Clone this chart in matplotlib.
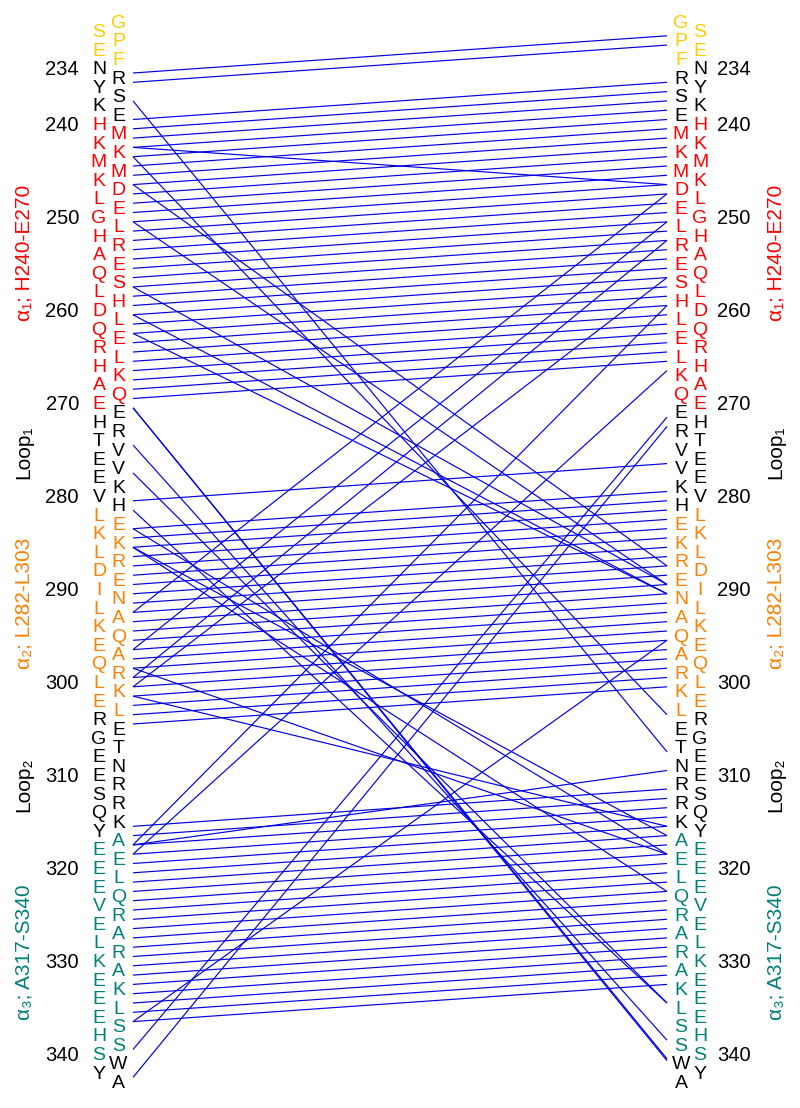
import matplotlib
matplotlib.use("Agg")
import matplotlib.pyplot as plt

# ---------------- data ----------------
first_res = 229
# residues at odd positions (229, 231, ... 343) and even positions (230, ... 342)
odd_seq = "GPFRSEMKMDELRESHLELKQERVVKHEKRENAQARKLETNRRKAELQRARAKLSSWA"
even_seq = "SENYKHKMKLGHAQLDQRHAEHTEEVLKLDILKEQLERGEESQYEEEVELKEEEHSY"

tick_values = [234, 240, 250, 260, 270, 280, 290, 300, 310, 320, 330, 340]

region_names = ["tag", "α₁; H240-E270", "Loop₁", "α₂; L282-L303", "Loop₂", "α₃; A317-S340"]
region_start = [229, 240, 271, 282, 304, 317]
region_end = [233, 270, 281, 303, 316, 340]
region_colors = ["#FFCC00", "#FF0000", "#000000", "#FF7F00", "#000000", "#00807A"]
label_center = [None, 253.3, 274.8, 291.0, 310.5, 328.5]

# links: residue on left copy -> residue on right copy
near_left = [234, 235] + list(range(239, 270)) + [280] + list(range(283, 305)) + list(range(315, 337))
near_right = [230, 231] + list(range(235, 266)) + [276] + list(range(279, 301)) + list(range(311, 333))
cross_left = [237, 242, 243, 246, 250, 257, 260, 262, 270, 270, 274, 277, 281, 283, 285, 285, 298, 301,
              292, 296, 299, 300, 317, 318, 339, 342, 317, 336]
cross_right = [307, 246, 303, 287, 289, 289, 290, 290, 340, 340.2, 338, 334, 334, 318, 316, 322, 318, 315,
               247, 250, 252, 256, 259, 266, 271, 272, 309, 295]
link_left = near_left + cross_left
link_right = near_right + cross_right

# ---------------- drawing ----------------
fig = plt.figure(figsize=(8, 11.08), dpi=100)
ax = fig.add_axes([0, 0, 1, 1])
ax.set_xlim(0, 800)
ax.set_ylim(345.29, 226.15)
ax.axis("off")

FONT = "Liberation Sans"
FS = 14
text_shift = -0.35

def res_color(r):
    for s, e, c in zip(region_start, region_end, region_colors):
        if s <= r <= e:
            return c
    return "#000000"

x_left_odd, x_left_even = 118.5, 99
x_right_odd, x_right_even = 681, 700
x_line_l, x_line_r = 133, 667

for i, ch in enumerate(odd_seq):
    r = first_res + 2 * i
    c = res_color(r)
    ax.text(x_left_odd, r + text_shift, ch, color=c, fontsize=FS, family=FONT, ha="center", va="center")
    ax.text(x_right_odd, r + text_shift, ch, color=c, fontsize=FS, family=FONT, ha="center", va="center")
for i, ch in enumerate(even_seq):
    r = first_res + 1 + 2 * i
    c = res_color(r)
    ax.text(x_left_even, r + text_shift, ch, color=c, fontsize=FS, family=FONT, ha="center", va="center")
    ax.text(x_right_even, r + text_shift, ch, color=c, fontsize=FS, family=FONT, ha="center", va="center")

for t in tick_values:
    ax.text(79, t + text_shift, str(t), fontsize=14.5, family=FONT, ha="right", va="center")
    ax.text(717, t + text_shift, str(t), fontsize=14.5, family=FONT, ha="left", va="center")

for name, c, yc in zip(region_names, region_colors, label_center):
    if yc is None:
        continue
    for x in (24, 776):
        ax.text(x, yc, name, color=c, fontsize=15, family=[FONT, "DejaVu Sans"], rotation=90,
                ha="center", va="center")

for a, b in zip(link_left, link_right):
    ax.plot([x_line_l, x_line_r], [a, b], color="#0000E6", lw=0.85, solid_capstyle="butt")

fig.savefig("out.png", dpi=100)
